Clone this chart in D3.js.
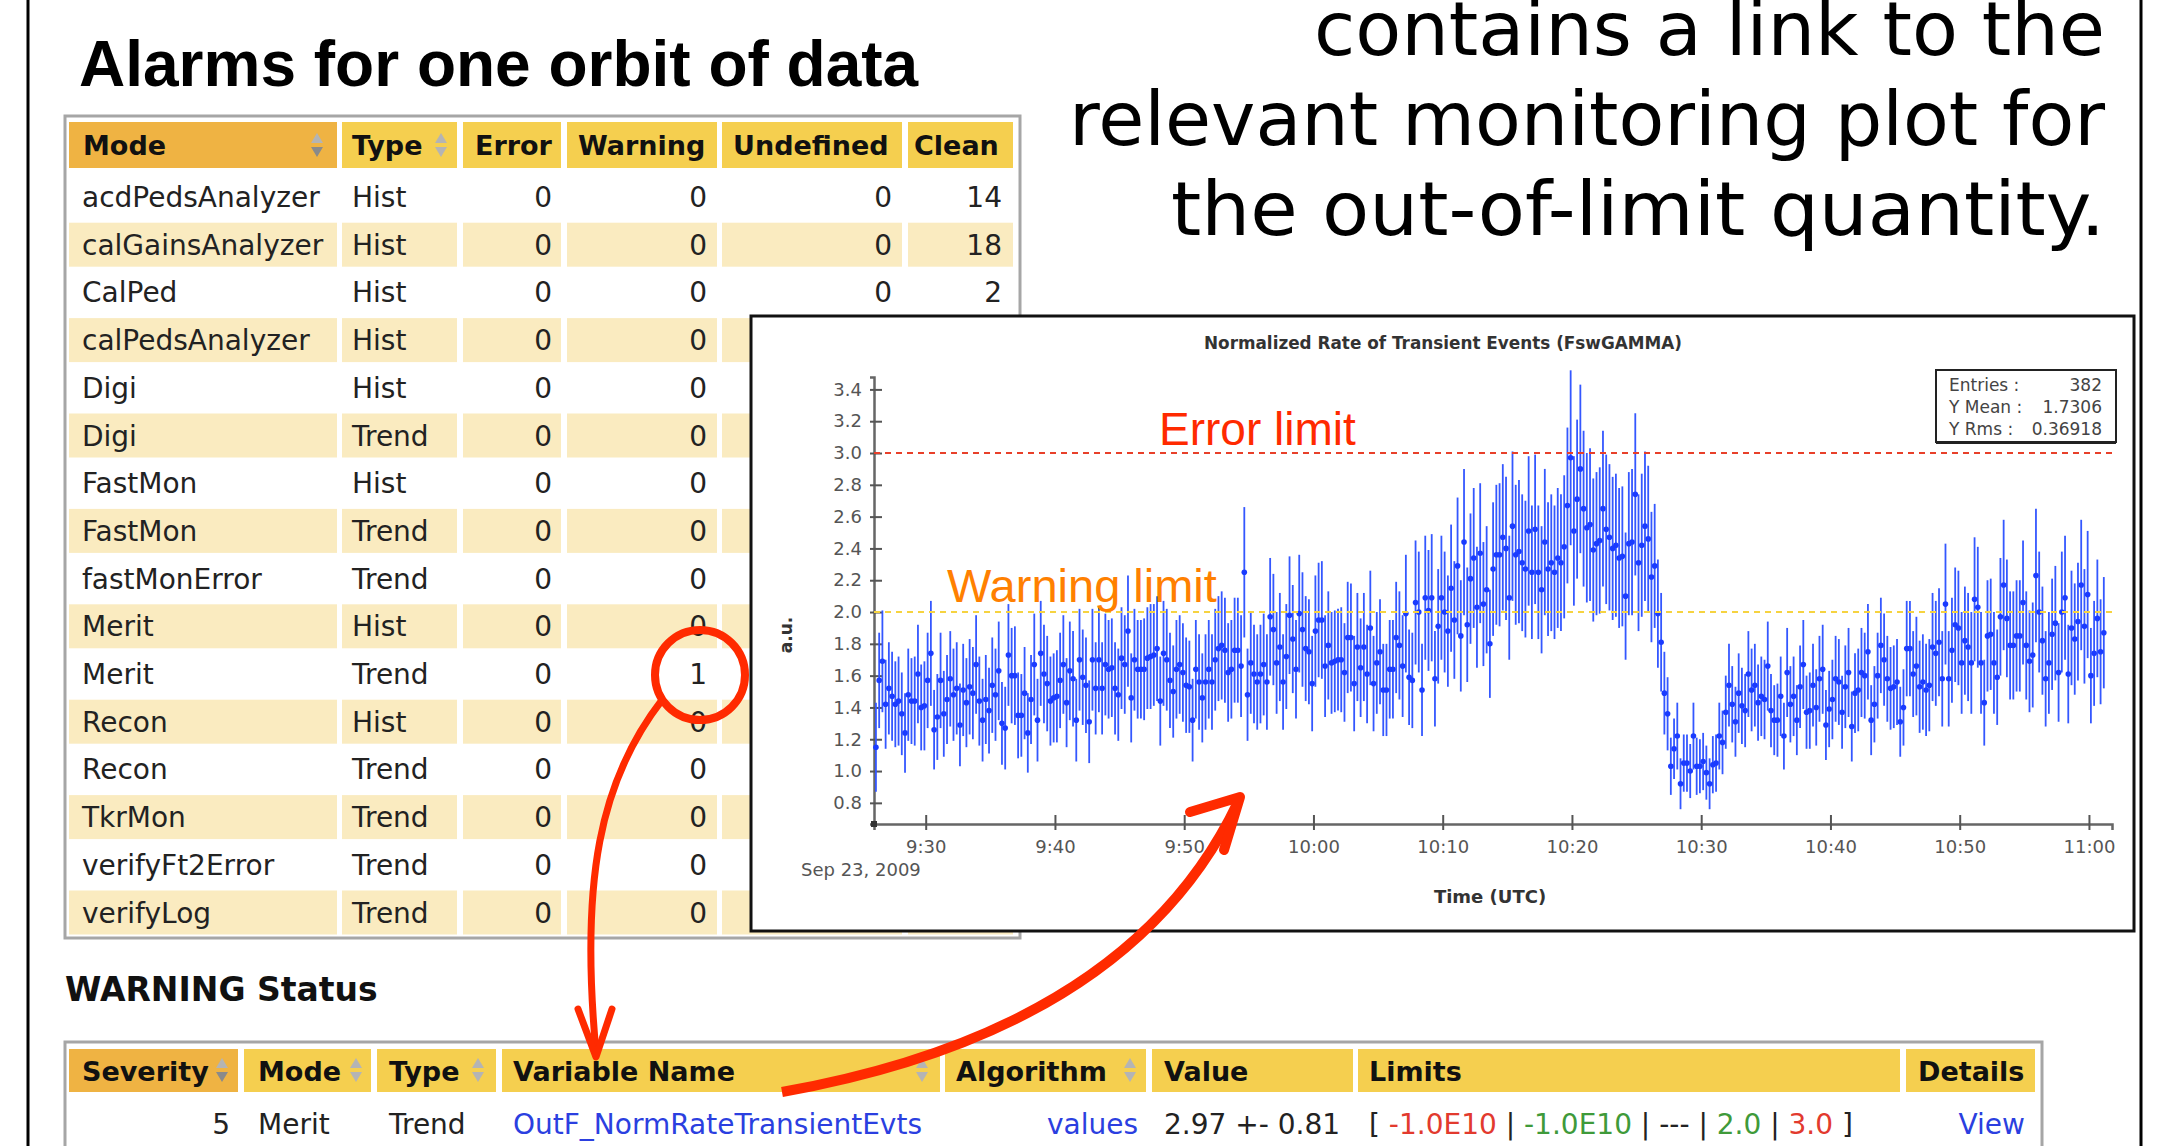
<!DOCTYPE html>
<html>
<head>
<meta charset="utf-8">
<script src="https://cdn.jsdelivr.net/npm/d3@7"></script>
<style>
  html, body { margin: 0; padding: 0; background: #fff; }
  svg { display: block; }
</style>
</head>
<body>
<div id="chart"></div>
<script>
// ---- alarm summary table ----
const alarmColumns = ['Mode', 'Type', 'Error', 'Warning', 'Undefined', 'Clean']
const alarmModes = ['acdPedsAnalyzer', 'calGainsAnalyzer', 'CalPed', 'calPedsAnalyzer', 'Digi', 'Digi', 'FastMon', 'FastMon',
  'fastMonError', 'Merit', 'Merit', 'Recon', 'Recon', 'TkrMon', 'verifyFt2Error', 'verifyLog']
const alarmTypes = ['Hist', 'Hist', 'Hist', 'Hist', 'Hist', 'Trend', 'Hist', 'Trend',
  'Trend', 'Hist', 'Trend', 'Hist', 'Trend', 'Trend', 'Trend', 'Trend']
const alarmErrors = [0, 0, 0, 0, 0, 0, 0, 0, 0, 0, 0, 0, 0, 0, 0, 0]
const alarmWarnings = [0, 0, 0, 0, 0, 0, 0, 0, 0, 0, 1, 0, 0, 0, 0, 0]
const alarmUndefined = [0, 0, 0]   // the rest is hidden behind the plot
const alarmClean = [14, 18, 2]

// ---- warning status table ----
const warnColumns = ['Severity', 'Mode', 'Type', 'Variable Name', 'Algorithm', 'Value', 'Limits', 'Details']
const warnRow = ['5', 'Merit', 'Trend', 'OutF_NormRateTransientEvts', 'values', '2.97 +- 0.81', '', 'View']
const warnLimits = ['-1.0E10', '-1.0E10', '---', '2.0', '3.0']
const warnLimitColors = ['#e23a2e', '#3f9a3a', '#222', '#3f9a3a', '#e23a2e']

// ---- trend plot ----
const plotTitle = 'Normalized Rate of Transient Events (FswGAMMA)'
const yTicks = [0.8, 1.0, 1.2, 1.4, 1.6, 1.8, 2.0, 2.2, 2.4, 2.6, 2.8, 3.0, 3.2, 3.4]
const errorLimit = 3.0
const warningLimit = 2.0
const statsRows = [['Entries :', '382'], ['Y Mean :', '1.7306'], ['Y Rms :', '0.36918']]

// normalized rate, one entry per 15 s bin
const rate0926 = [1.15,1.57,1.69,1.42,1.52,1.47,1.42,1.44,1.36,1.24,
  1.48,1.44,1.44,1.61,1.40,1.41,1.57,1.74,1.26,1.34,
  1.57,1.36,1.45,1.58,1.48,1.52,1.29,1.51,1.43,1.53,
  1.49,1.67,1.44,1.32,1.45,1.38,1.54,1.48,1.63,1.30,
  1.27,1.73,1.60,1.60,1.35,1.35,1.49,1.24,1.45,1.67,
  1.32,1.74,1.61,1.55,1.44,1.46,1.47,1.57,1.67,1.43,
  1.63,1.58,1.32,1.70,1.59,1.54,1.31,1.70,1.52,1.70,
  1.52,1.67,1.64,1.65,1.52,1.48,1.71,1.67,1.88,1.46,
  1.70]
const rate0946 = [1.64,1.64,1.64,1.71,1.72,1.73,1.77,1.44,1.74,1.70,
  1.57,1.50,1.64,1.67,1.62,1.54,1.53,1.32,1.64,1.56,
  1.46,1.56,1.64,1.56,1.70,1.77,1.79,1.76,1.62,1.64,
  1.76,1.76,1.66,2.25,1.48,1.68,1.61,1.56,1.61,1.67,
  1.56,1.97,1.89,1.68,1.78,1.56,1.72,1.98,1.83,1.64,
  1.99,1.89,1.77,1.75,1.55,1.88,1.95,1.95,1.66,1.79,
  1.68,1.69,1.70,1.70,1.62,1.84,1.84,1.55,1.78,1.65,
  1.78,1.61,1.90,1.55,1.68,1.75,1.51,1.51,1.64]
const rate1006 = [1.64,1.84,1.79,1.66,1.99,1.59,1.57,2.06,2.00,1.51,
  2.09,2.01,2.09,1.58,1.91,2.09,2.00,1.88,2.15,1.95,
  2.29,1.85,2.44,1.92,2.21,2.34,2.03,2.37,2.05,2.14,
  1.80,2.27,2.36,2.36,2.47,2.40,2.09,2.54,2.36,2.38,
  2.31,2.27,2.51,2.25,2.52,2.25,2.14,2.44,2.27,2.31,
  2.25,2.34,2.31,2.41,2.67,2.97,2.51,2.71,2.90,2.65,
  2.53,2.55,2.39,2.43,2.45,2.65,2.52,2.47,2.40,2.42,
  2.34,2.35,2.10,2.43,2.44,2.74,2.31,2.42,2.54,2.46,
  2.22]
const rate1026 = [2.29,1.99,1.81,1.49,1.36,1.03,1.14,1.22,0.92,1.05,
  1.05,1.00,1.22,1.03,1.03,1.06,0.99,0.92,1.04,1.05,
  1.22,1.18,1.37,1.54,1.42,1.31,1.49,1.41,1.38,1.61,
  1.51,1.54,1.43,1.47,1.45,1.66,1.38,1.32,1.32,1.47,
  1.22,1.62,1.42,1.47,1.32,1.53,1.67,1.37,1.38,1.54,
  1.40,1.58,1.64,1.29,1.39,1.45,1.58,1.56,1.37,1.53,
  1.62,1.28,1.49,1.51,1.62,1.60,1.75,1.32,1.42,1.60,
  1.79,1.70,1.58,1.52,1.53,1.56,1.31,1.40,1.77,1.77,
  1.61]
const rate1046 = [1.66,1.53,1.56,1.51,1.54,1.78,1.74,1.81,1.58,2.05,
  1.58,1.76,1.92,1.90,1.68,1.82,1.78,1.68,2.08,2.03,
  1.68,1.43,1.85,1.86,1.68,1.59,1.97,2.17,1.96,1.79,
  1.79,1.85,1.85,2.06,1.79,1.69,1.73,2.23,2.00,1.82,
  1.58,1.68,1.86,1.93,1.62,2.00,2.09,1.61,1.90,1.83,
  1.94,2.17,1.91,2.11,1.60,1.74,1.96,1.75,1.87]

// half length of each error bar
const err0926 = [0.28,0.30,0.32,0.28,0.29,0.28,0.27,0.28,0.26,0.25,
  0.29,0.27,0.28,0.31,0.27,0.28,0.30,0.33,0.25,0.27,
  0.30,0.27,0.28,0.30,0.29,0.29,0.26,0.29,0.28,0.30,
  0.29,0.31,0.28,0.26,0.28,0.27,0.30,0.29,0.31,0.26,
  0.26,0.32,0.30,0.31,0.27,0.26,0.29,0.25,0.28,0.32,
  0.26,0.33,0.31,0.30,0.28,0.28,0.29,0.30,0.31,0.28,
  0.31,0.30,0.26,0.32,0.30,0.30,0.26,0.32,0.29,0.33,
  0.29,0.32,0.31,0.31,0.29,0.29,0.32,0.31,0.35,0.28,
  0.32]
const err0946 = [0.31,0.31,0.32,0.32,0.33,0.32,0.33,0.28,0.33,0.32,
  0.30,0.29,0.31,0.31,0.31,0.30,0.29,0.26,0.31,0.30,
  0.28,0.30,0.31,0.30,0.32,0.33,0.34,0.33,0.31,0.31,
  0.33,0.33,0.32,0.41,0.29,0.32,0.31,0.30,0.31,0.32,
  0.30,0.37,0.35,0.32,0.34,0.30,0.33,0.37,0.34,0.31,
  0.37,0.36,0.33,0.33,0.30,0.35,0.36,0.37,0.32,0.34,
  0.32,0.32,0.32,0.33,0.31,0.35,0.34,0.30,0.34,0.31,
  0.34,0.31,0.36,0.30,0.32,0.33,0.29,0.29,0.31]
const err1006 = [0.31,0.35,0.34,0.32,0.37,0.30,0.30,0.39,0.38,0.29,
  0.39,0.38,0.40,0.30,0.36,0.39,0.38,0.35,0.40,0.37,
  0.43,0.35,0.46,0.36,0.41,0.44,0.38,0.44,0.39,0.40,
  0.34,0.42,0.44,0.45,0.46,0.45,0.39,0.47,0.44,0.45,
  0.43,0.43,0.47,0.42,0.47,0.42,0.40,0.46,0.42,0.43,
  0.42,0.44,0.43,0.45,0.49,0.55,0.47,0.50,0.53,0.49,
  0.47,0.48,0.45,0.45,0.46,0.49,0.47,0.46,0.45,0.45,
  0.44,0.44,0.40,0.45,0.46,0.51,0.43,0.45,0.47,0.46,
  0.41]
const err1026 = [0.39,0.34,0.31,0.26,0.23,0.18,0.19,0.21,0.16,0.18,
  0.18,0.17,0.21,0.18,0.17,0.18,0.17,0.16,0.18,0.18,
  0.21,0.20,0.23,0.26,0.24,0.22,0.25,0.24,0.23,0.27,
  0.26,0.26,0.24,0.25,0.25,0.28,0.23,0.22,0.23,0.25,
  0.21,0.28,0.24,0.25,0.22,0.26,0.28,0.23,0.24,0.26,
  0.24,0.27,0.28,0.22,0.24,0.25,0.27,0.27,0.23,0.26,
  0.28,0.22,0.25,0.26,0.28,0.27,0.30,0.22,0.24,0.27,
  0.30,0.29,0.27,0.26,0.26,0.27,0.22,0.24,0.30,0.30,
  0.27]
const err1046 = [0.31,0.29,0.30,0.29,0.29,0.34,0.33,0.34,0.30,0.38,
  0.30,0.33,0.36,0.36,0.32,0.34,0.34,0.32,0.39,0.38,
  0.32,0.27,0.35,0.35,0.32,0.30,0.37,0.41,0.37,0.34,
  0.34,0.35,0.35,0.39,0.34,0.32,0.33,0.42,0.38,0.34,
  0.30,0.32,0.35,0.36,0.31,0.38,0.39,0.31,0.36,0.35,
  0.37,0.41,0.36,0.40,0.30,0.33,0.37,0.33,0.35]

const W = 2173
const H = 1146
const red = '#ff2a00'
const sans = '"DejaVu Sans", Verdana, sans-serif'
const arial = '"Liberation Sans", Arial, sans-serif'

const svg = d3.select('#chart').append('svg')
  .attr('width', W)
  .attr('height', H)
  .attr('font-family', sans)

// slide frame
svg.append('line').attr('x1', 28).attr('x2', 28).attr('y1', 0).attr('y2', H)
  .attr('stroke', '#000').attr('stroke-width', 3)
svg.append('line').attr('x1', 2141).attr('x2', 2141).attr('y1', 0).attr('y2', H)
  .attr('stroke', '#000').attr('stroke-width', 3)

svg.append('text')
  .attr('x', 79).attr('y', 86)
  .attr('font-family', arial)
  .attr('font-weight', 'bold')
  .attr('font-size', 64)
  .attr('fill', '#000')
  .text('Alarms for one orbit of data')

const noteLines = ['contains a link to the', 'relevant monitoring plot for', 'the out-of-limit quantity.']
const noteWidths = [791, 1036, 934]
svg.selectAll('text.note')
  .data(noteLines).enter()
  .append('text')
  .attr('class', 'note')
  .attr('x', (d, i) => 2105 - noteWidths[i])
  .attr('y', (d, i) => 55 + i * 90)
  .attr('textLength', (d, i) => noteWidths[i])
  .attr('lengthAdjust', 'spacingAndGlyphs')
  .attr('font-size', 75)
  .attr('fill', '#000')
  .text(d => d)

// small sort arrows used in table headers
function sortArrows (g, cx, cy, sorted) {
  g.append('path')
    .attr('d', `M${cx - 6},${cy - 2}L${cx + 6},${cy - 2}L${cx},${cy - 12}Z`)
    .attr('fill', '#b4b4b4')
  g.append('path')
    .attr('d', `M${cx - 6},${cy + 2}L${cx + 6},${cy + 2}L${cx},${cy + 12}Z`)
    .attr('fill', sorted ? '#8a8a8a' : '#b4b4b4')
}

// ---------------- alarm table ----------------
const headSorted = '#efb343'
const headPlain = '#f5cf4f'
const beige = '#faebc0'
const ink = '#222'

const alarmColX = [69, 342, 463, 567, 722, 908]
const alarmColW = [268, 115, 98, 150, 180, 105]
const alarmHeadPad = [14, 10, 12, 11, 11, 6]
const alarmNumRight = [552, 707, 892, 1002]

const at = svg.append('g')
at.append('rect')
  .attr('x', 65).attr('y', 116).attr('width', 955).attr('height', 822)
  .attr('fill', '#fff').attr('stroke', '#a6a6a6').attr('stroke-width', 3)

alarmColumns.forEach((c, j) => {
  at.append('rect')
    .attr('x', alarmColX[j]).attr('y', 122)
    .attr('width', alarmColW[j]).attr('height', 46)
    .attr('fill', j === 0 ? headSorted : headPlain)
  at.append('text')
    .attr('x', alarmColX[j] + alarmHeadPad[j]).attr('y', 155)
    .attr('font-size', 27).attr('font-weight', 'bold').attr('fill', '#111')
    .text(c)
})
sortArrows(at, 317, 145, true)
sortArrows(at, 441, 145, false)

const rowY = i => 197 + i * 47.7
alarmModes.forEach((m, i) => {
  const cy = rowY(i)
  if (i % 2 === 1) {
    alarmColumns.forEach((c, j) => {
      at.append('rect')
        .attr('x', alarmColX[j]).attr('y', cy - 22)
        .attr('width', alarmColW[j]).attr('height', 44)
        .attr('fill', beige)
    })
  }
  at.append('text').attr('x', 82).attr('y', cy + 10)
    .attr('font-size', 28).attr('fill', ink).text(m)
  at.append('text').attr('x', 352).attr('y', cy + 10)
    .attr('font-size', 28).attr('fill', ink).text(alarmTypes[i])
  const nums = [alarmErrors[i], alarmWarnings[i], alarmUndefined[i], alarmClean[i]]
  nums.forEach((n, k) => {
    if (n === undefined) return
    at.append('text').attr('x', alarmNumRight[k]).attr('y', cy + 10)
      .attr('text-anchor', 'end')
      .attr('font-size', 28).attr('fill', ink).text(n)
  })
})

// ---------------- warning status ----------------
svg.append('text')
  .attr('x', 65).attr('y', 1001)
  .attr('font-size', 33).attr('font-weight', 'bold').attr('fill', '#111')
  .text('WARNING Status')

const warnColX = [69, 244, 377, 502, 945, 1152, 1358, 1906]
const warnColW = [169, 127, 119, 438, 201, 201, 542, 129]
const warnTextX = [82, 258, 389, 513, 956, 1164, 1369, 1918]
const warnArrowX = [222, 356, 478, 922, 1130]

const wt = svg.append('g')
wt.append('rect')
  .attr('x', 65).attr('y', 1042).attr('width', 1977).attr('height', 140)
  .attr('fill', '#fff').attr('stroke', '#a6a6a6').attr('stroke-width', 3)

warnColumns.forEach((c, j) => {
  wt.append('rect')
    .attr('x', warnColX[j]).attr('y', 1049)
    .attr('width', warnColW[j]).attr('height', 43)
    .attr('fill', j === 0 ? headSorted : headPlain)
  wt.append('text')
    .attr('x', warnTextX[j]).attr('y', 1081)
    .attr('font-size', 27).attr('font-weight', 'bold').attr('fill', '#111')
    .text(c)
})
warnArrowX.forEach((cx, j) => sortArrows(wt, cx, 1070, j === 0))

const rowBase = 1134
const link = '#2b3fe0'
wt.append('text').attr('x', 230).attr('y', rowBase).attr('text-anchor', 'end')
  .attr('font-size', 28).attr('fill', ink).text(warnRow[0])
wt.append('text').attr('x', 258).attr('y', rowBase)
  .attr('font-size', 28).attr('fill', ink).text(warnRow[1])
wt.append('text').attr('x', 389).attr('y', rowBase)
  .attr('font-size', 28).attr('fill', ink).text(warnRow[2])
wt.append('text').attr('x', 513).attr('y', rowBase)
  .attr('font-size', 28).attr('fill', link).text(warnRow[3])
wt.append('text').attr('x', 1138).attr('y', rowBase).attr('text-anchor', 'end')
  .attr('font-size', 28).attr('fill', link).text(warnRow[4])
wt.append('text').attr('x', 1164).attr('y', rowBase)
  .attr('font-size', 28).attr('fill', ink).text(warnRow[5])
wt.append('text').attr('x', 2025).attr('y', rowBase).attr('text-anchor', 'end')
  .attr('font-size', 28).attr('fill', link).text(warnRow[7])

const limText = wt.append('text').attr('x', 1369).attr('y', rowBase)
  .attr('font-size', 28).attr('fill', ink).attr('xml:space', 'preserve')
limText.append('tspan').text('[ ')
warnLimits.forEach((l, k) => {
  limText.append('tspan').attr('fill', warnLimitColors[k]).text(l)
  limText.append('tspan').attr('fill', ink).text(k < warnLimits.length - 1 ? ' | ' : ' ]')
})

// ---------------- trend plot ----------------
const panel = svg.append('g')
panel.append('rect')
  .attr('x', 751).attr('y', 316).attr('width', 1383).attr('height', 615)
  .attr('fill', '#fff').attr('stroke', '#111').attr('stroke-width', 3)

const area = { left: 874, right: 2112, top: 377, bottom: 824 }
const x = d3.scaleTime()
  .domain([new Date(2009, 8, 23, 9, 26, 0), new Date(2009, 8, 23, 11, 1, 47)])
  .range([area.left, area.right])
const y = d3.scaleLinear()
  .domain([0.667, 3.478])
  .range([area.bottom, area.top])

const rates = [].concat(rate0926, rate0946, rate1006, rate1026, rate1046)
const errs = [].concat(err0926, err0946, err1006, err1026, err1046)
const t0 = new Date(2009, 8, 23, 9, 26, 9)
const points = rates.map((v, i) => ({ t: d3.timeSecond.offset(t0, i * 15), v, e: errs[i] }))

panel.append('text')
  .attr('x', 1443).attr('y', 349)
  .attr('text-anchor', 'middle')
  .attr('font-size', 17).attr('font-weight', 'bold').attr('fill', '#333')
  .attr('textLength', 478).attr('lengthAdjust', 'spacingAndGlyphs')
  .text(plotTitle)

const xAxis = g => g
  .attr('transform', `translate(0,${area.bottom})`)
  .call(d3.axisBottom(x)
    .ticks(d3.timeMinute.every(10))
    .tickFormat(d3.timeFormat('%-H:%M'))
    .tickSizeOuter(0)
    .tickSize(6))
  .call(g => g.select('.domain').attr('stroke', '#666').attr('stroke-width', 2.5))
  .call(g => g.selectAll('.tick line').attr('y1', -9).attr('stroke', '#555').attr('stroke-width', 2))
  .call(g => g.selectAll('.tick text')
    .attr('y', 29).attr('dy', null)
    .attr('font-size', 18).attr('font-family', sans)
    .attr('fill', '#555'))

const yAxis = g => g
  .attr('transform', `translate(${area.left},0)`)
  .call(d3.axisLeft(y)
    .tickValues(yTicks)
    .tickFormat(d3.format('.1f'))
    .tickSizeOuter(0)
    .tickSize(4))
  .call(g => g.select('.domain').attr('stroke', '#666').attr('stroke-width', 2.5))
  .call(g => g.selectAll('.tick line').attr('x1', 8).attr('stroke', '#555').attr('stroke-width', 2))
  .call(g => g.selectAll('.tick text')
    .attr('x', -12)
    .attr('font-size', 18).attr('font-family', sans)
    .attr('fill', '#555'))

panel.append('g').call(xAxis)
panel.append('g').call(yAxis)
panel.append('rect')
  .attr('x', area.left - 3).attr('y', area.bottom - 3).attr('width', 6).attr('height', 6)
  .attr('fill', '#333')

panel.append('text')
  .attr('x', 801).attr('y', 876)
  .attr('font-size', 18).attr('fill', '#555')
  .text('Sep 23, 2009')
panel.append('text')
  .attr('x', 1490).attr('y', 903)
  .attr('text-anchor', 'middle')
  .attr('font-size', 18).attr('font-weight', 'bold').attr('fill', '#333')
  .text('Time (UTC)')
panel.append('text')
  .attr('transform', 'translate(792,635) rotate(-90)')
  .attr('text-anchor', 'middle')
  .attr('font-size', 17).attr('font-weight', 'bold').attr('fill', '#333')
  .text('a.u.')

const marks = panel.append('g')
marks.selectAll('line')
  .data(points).enter()
  .append('line')
  .attr('x1', d => x(d.t)).attr('x2', d => x(d.t))
  .attr('y1', d => y(d.v - d.e)).attr('y2', d => y(d.v + d.e))
  .attr('stroke', '#3457ff').attr('stroke-width', 1.8)
marks.selectAll('circle')
  .data(points).enter()
  .append('circle')
  .attr('cx', d => x(d.t)).attr('cy', d => y(d.v))
  .attr('r', 2.8)
  .attr('fill', '#1a3bff')

panel.append('line')
  .attr('x1', area.left).attr('x2', area.right)
  .attr('y1', y(errorLimit)).attr('y2', y(errorLimit))
  .attr('stroke', '#e8402a').attr('stroke-width', 2).attr('stroke-dasharray', '6,5')
panel.append('line')
  .attr('x1', area.left).attr('x2', area.right)
  .attr('y1', y(warningLimit)).attr('y2', y(warningLimit))
  .attr('stroke', '#f6d340').attr('stroke-width', 2).attr('stroke-dasharray', '6,5')

panel.append('text')
  .attr('x', 1159).attr('y', y(errorLimit) - 8)
  .attr('font-family', arial)
  .attr('font-size', 46).attr('fill', red)
  .text('Error limit')
panel.append('text')
  .attr('x', 947).attr('y', y(warningLimit) - 10)
  .attr('font-family', arial)
  .attr('font-size', 47).attr('fill', '#ff8000')
  .text('Warning limit')

// statistics box
const sb = panel.append('g')
sb.append('rect')
  .attr('x', 1936).attr('y', 370).attr('width', 180).attr('height', 72)
  .attr('fill', '#fff').attr('stroke', '#222').attr('stroke-width', 2)
sb.append('line')
  .attr('x1', 1936).attr('x2', 2116).attr('y1', 443).attr('y2', 443)
  .attr('stroke', '#222').attr('stroke-width', 2)
statsRows.forEach((r, i) => {
  sb.append('text').attr('x', 1949).attr('y', 391 + i * 22)
    .attr('font-size', 17).attr('fill', '#444').text(r[0])
  sb.append('text').attr('x', 2102).attr('y', 391 + i * 22)
    .attr('text-anchor', 'end')
    .attr('font-size', 17).attr('fill', '#444').text(r[1])
})

// ---------------- red annotations ----------------
const ann = svg.append('g')
  .attr('fill', 'none')
  .attr('stroke', red)
  .attr('stroke-linecap', 'round')
  .attr('stroke-linejoin', 'round')
ann.append('circle')
  .attr('cx', 700).attr('cy', 675).attr('r', 45)
  .attr('stroke-width', 8)
ann.append('path')
  .attr('d', 'M662,700 C600,780 580,880 596,1052')
  .attr('stroke-width', 7)
ann.append('path')
  .attr('d', 'M578,1009 L596,1057 L612,1009')
  .attr('stroke-width', 7)
ann.append('path')
  .attr('d', 'M782,1092 Q1130,1030 1238,802')
  .attr('stroke-width', 10)
  .attr('stroke-linecap', 'butt')
ann.append('path')
  .attr('d', 'M1190,812 L1240,797 L1224,850')
  .attr('stroke-width', 10)
</script>
</body>
</html>
